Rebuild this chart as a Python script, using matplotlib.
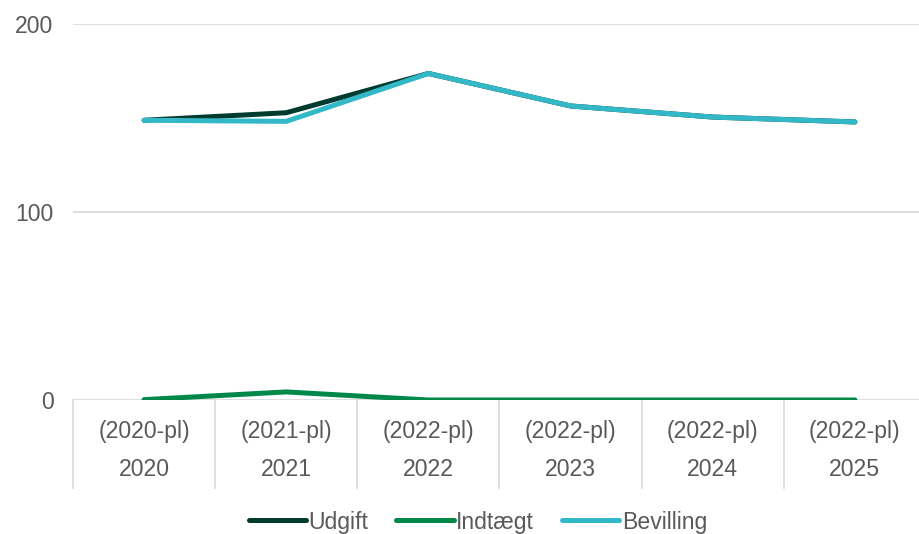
import matplotlib.pyplot as plt
from matplotlib.transforms import blended_transform_factory

# Data
years = ['2020', '2021', '2022', '2023', '2024', '2025']
price_levels = ['(2020-pl)', '(2021-pl)', '(2022-pl)', '(2022-pl)', '(2022-pl)', '(2022-pl)']
udgift = [148.8, 152.8, 173.7, 156.4, 150.5, 147.9]
indtaegt = [0.2, 4.3, 0.0, 0.0, 0.0, 0.0]
bevilling = [148.8, 148.2, 173.7, 156.4, 150.5, 147.9]

text_col = '#595959'
grid_col = '#D9D9D9'
plt.rcParams['font.family'] = ['Liberation Sans', 'DejaVu Sans']
fs = 16.6

fig = plt.figure(figsize=(9.19, 5.34), dpi=100)
ax = fig.add_axes([73 / 919, 134 / 534, 853 / 919, 376 / 534])

x = list(range(len(years)))
ax.plot(x, udgift, color='#003B2F', lw=3.6, solid_capstyle='round', label='Udgift', zorder=3)
ax.plot(x, indtaegt, color='#00884A', lw=3.6, solid_capstyle='round', label='Indtægt', zorder=4)
ax.plot(x, bevilling, color='#33B8C8', lw=3.6, solid_capstyle='round', label='Bevilling', zorder=5)

ax.set_xlim(-0.5, 5.5)
ax.set_ylim(0, 200)
ax.set_yticks([0, 100, 200])
ax.tick_params(axis='y', length=0, labelsize=fs, labelcolor=text_col, pad=14)
ax.yaxis.grid(True, color=grid_col, lw=1.2)
ax.set_axisbelow(True)
for s in ax.spines.values():
    s.set_visible(False)

# category axis: two-level labels with separators
ax.set_xticks([])
trans = blended_transform_factory(ax.transData, ax.transAxes)
for i in x:
    ax.text(i, -0.085, price_levels[i], transform=trans, ha='center', va='center',
            fontsize=fs, color=text_col)
    ax.text(i, -0.186, years[i], transform=trans, ha='center', va='center',
            fontsize=fs, color=text_col)
for b in [v - 0.5 for v in range(len(years) + 1)]:
    ax.plot([b, b], [0, -0.234], transform=trans, color=grid_col, lw=1.2, clip_on=False)

fig.legend(loc='center', bbox_to_anchor=(0.52, 1 - 522 / 534), ncol=3, frameon=False,
           fontsize=fs, labelcolor=text_col, handlelength=2.5, handletextpad=0.1,
           columnspacing=1.2)

fig.savefig('out.png', dpi=100)
